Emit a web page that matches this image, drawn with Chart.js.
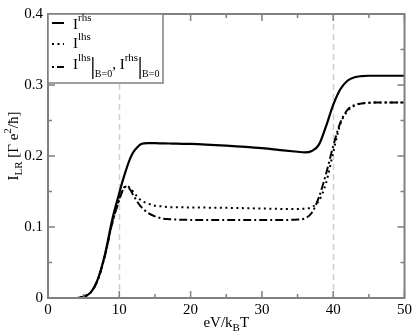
<!DOCTYPE html>
<html>
<head>
<meta charset="utf-8">
<script src="https://cdn.jsdelivr.net/npm/chart.js@4/dist/chart.umd.min.js"></script>
<style>body{margin:0;background:#fff}</style>
</head>
<body>
<canvas id="chart" width="415" height="333"></canvas>
<script>
// bias voltage eV/kBT
var xVals = [0,2,4,5,6,7,8,9,10,10.5,11,11.5,12,12.5,13,13.5,14,15,16,17,18,20,25,30,33,35,36,37,38,39,40,41,42,43,44,45,47,50];
// I^rhs
var rhs = [0,0,0,0.002,0.008,0.027,0.062,0.11,0.148,0.166,0.182,0.196,0.206,0.212,0.2165,0.2178,0.218,0.218,0.2178,0.2176,0.2173,0.217,0.2145,0.211,0.208,0.206,0.205,0.207,0.216,0.242,0.272,0.294,0.306,0.311,0.3125,0.313,0.313,0.313];
// I^lhs
var lhs = [0,0,0,0.002,0.008,0.026,0.06,0.105,0.14,0.153,0.158,0.155,0.149,0.143,0.138,0.135,0.133,0.130,0.129,0.128,0.1278,0.1275,0.127,0.126,0.1255,0.1255,0.1258,0.128,0.137,0.162,0.205,0.245,0.263,0.271,0.274,0.275,0.2755,0.2755];
// I^lhs|B=0 = I^rhs|B=0
var bZero = [0,0,0,0.002,0.008,0.026,0.06,0.105,0.138,0.152,0.157,0.153,0.144,0.136,0.129,0.124,0.120,0.115,0.112,0.111,0.1105,0.110,0.110,0.110,0.110,0.1105,0.112,0.120,0.142,0.175,0.214,0.247,0.265,0.272,0.274,0.275,0.2755,0.2755];
var xTicks = [0,10,20,30,40,50];
var yTicks = [0,0.1,0.2,0.3,0.4];
var markLines = [10,40];

var serif = "'Liberation Serif', 'DejaVu Serif', serif";

function pts(ys) {
  return xVals.map(function(x, i) { return {x: x, y: ys[i]}; });
}

// draws text pieces: [text, size, dy]
function rich(ctx, x, y, parts) {
  parts.forEach(function(p) {
    ctx.font = p[1] + 'px ' + serif;
    ctx.fillText(p[0], x, y + p[2]);
    x += ctx.measureText(p[0]).width;
  });
  return x;
}

var decor = {
  id: 'decor',
  beforeDatasetsDraw: function(chart) {
    var ctx = chart.ctx, a = chart.chartArea, xs = chart.scales.x;
    ctx.save();
    ctx.strokeStyle = '#cfcfcf';
    ctx.lineWidth = 1.5;
    ctx.setLineDash([6, 4]);
    markLines.forEach(function(v) {
      var px = Math.round(xs.getPixelForValue(v)) + 0.5;
      ctx.beginPath(); ctx.moveTo(px, a.top); ctx.lineTo(px, a.bottom); ctx.stroke();
    });
    ctx.restore();
  },
  afterDatasetsDraw: function(chart) {
    var ctx = chart.ctx, a = chart.chartArea, xs = chart.scales.x, ys = chart.scales.y;
    ctx.save();
    ctx.strokeStyle = '#808080';
    ctx.lineWidth = 2;
    ctx.strokeRect(a.left, a.top, a.right - a.left, a.bottom - a.top);
    ctx.lineWidth = 1.5;
    ctx.beginPath();
    for (var v = 0; v <= 50; v += 5) {
      var px = xs.getPixelForValue(v), len = v % 10 === 0 ? 7 : 4;
      ctx.moveTo(px, a.bottom); ctx.lineTo(px, a.bottom - len);
      ctx.moveTo(px, a.top); ctx.lineTo(px, a.top + len);
    }
    for (var k = 0; k <= 8; k++) {
      var py = ys.getPixelForValue(k * 0.05), l2 = k % 2 === 0 ? 7 : 4;
      ctx.moveTo(a.left, py); ctx.lineTo(a.left + l2, py);
      ctx.moveTo(a.right, py); ctx.lineTo(a.right - l2, py);
    }
    ctx.stroke();

    // legend
    var lx = a.left, ly = a.top;
    ctx.fillStyle = '#fff';
    ctx.fillRect(lx, ly, 115, 69);
    ctx.strokeStyle = '#808080';
    ctx.lineWidth = 1.5;
    ctx.strokeRect(lx, ly, 115, 69);
    ctx.strokeStyle = '#000';
    ctx.lineWidth = 2;
    var samples = [[[], 9], [[2, 3.5], 30], [[2, 3, 7, 3], 53]];
    samples.forEach(function(s) {
      ctx.setLineDash(s[0]);
      ctx.beginPath(); ctx.moveTo(lx + 4, ly + s[1]); ctx.lineTo(lx + 16, ly + s[1]); ctx.stroke();
    });
    ctx.setLineDash([]);
    ctx.fillStyle = '#000';
    ctx.textAlign = 'left';
    ctx.textBaseline = 'alphabetic';
    rich(ctx, lx + 25, ly + 15, [['I', 15, 0], ['rhs', 11, -8]]);
    rich(ctx, lx + 25, ly + 34, [['I', 15, 0], ['lhs', 11, -8]]);
    var ex = rich(ctx, lx + 25, ly + 55, [['I', 15, 0], ['lhs', 11, -8]]);
    ctx.lineWidth = 1.3;
    ctx.beginPath(); ctx.moveTo(ex + 2, ly + 43); ctx.lineTo(ex + 2, ly + 65); ctx.stroke();
    ex = rich(ctx, ex + 4, ly + 55, [['B=0', 10, 8], [', ', 15, 0], ['I', 15, 0], ['rhs', 11, -8]]);
    ctx.beginPath(); ctx.moveTo(ex + 2, ly + 43); ctx.lineTo(ex + 2, ly + 65); ctx.stroke();
    rich(ctx, ex + 4, ly + 55, [['B=0', 10, 8]]);

    // axis titles
    var xt = [['eV/k', 15, 0], ['B', 11, 4], ['T', 15, 0]];
    var w = 0;
    xt.forEach(function(p) { ctx.font = p[1] + 'px ' + serif; w += ctx.measureText(p[0]).width; });
    rich(ctx, (a.left + a.right) / 2 - w / 2, 327, xt);

    var yt = [['I', 15, 0], ['LR', 11, 4], [' [\u0393 e', 15, 0], ['2', 11, -7], ['/\u0127]', 15, 0]];
    w = 0;
    yt.forEach(function(p) { ctx.font = p[1] + 'px ' + serif; w += ctx.measureText(p[0]).width; });
    ctx.translate(18, 146);
    ctx.rotate(-Math.PI / 2);
    rich(ctx, -w / 2, 0, yt);
    ctx.restore();
  }
};

var ctx = document.getElementById('chart').getContext('2d');
new Chart(ctx, {
  type: 'line',
  data: {
    datasets: [
      {label: 'rhs', data: pts(rhs), borderColor: '#000', borderWidth: 2.2},
      {label: 'lhs', data: pts(lhs), borderColor: '#000', borderWidth: 2, borderDash: [2, 3.5]},
      {label: 'B=0', data: pts(bZero), borderColor: '#000', borderWidth: 2, borderDash: [8, 3, 2, 3]}
    ]
  },
  options: {
    responsive: false,
    animation: false,
    events: [],
    layout: {padding: {top: 7, right: 8, left: 0, bottom: 0}},
    elements: {
      point: {radius: 0},
      line: {cubicInterpolationMode: 'monotone', fill: false}
    },
    plugins: {legend: {display: false}, tooltip: {enabled: false}},
    scales: {
      x: {
        type: 'linear', min: 0, max: 50,
        afterFit: function(s) { s.height = 35; },
        afterBuildTicks: function(s) { s.ticks = xTicks.map(function(v) { return {value: v}; }); },
        grid: {display: false, drawTicks: false},
        border: {display: false},
        ticks: {color: '#000', padding: 3, maxRotation: 0, font: {family: serif, size: 15}}
      },
      y: {
        min: 0, max: 0.4,
        afterFit: function(s) { s.width = 48; },
        afterBuildTicks: function(s) { s.ticks = yTicks.map(function(v) { return {value: v}; }); },
        grid: {display: false, drawTicks: false},
        border: {display: false},
        ticks: {
          color: '#000', padding: 5, font: {family: serif, size: 15},
          callback: function(v) { return v === 0 ? '0' : v.toFixed(1); }
        }
      }
    }
  },
  plugins: [decor]
});
</script>
</body>
</html>
